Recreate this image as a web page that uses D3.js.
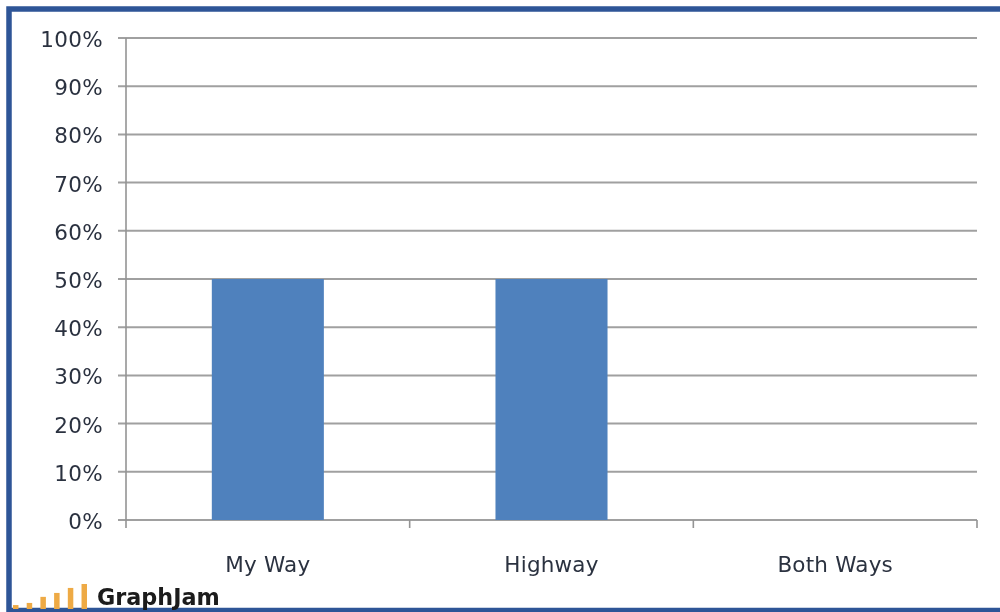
<!DOCTYPE html>
<html>
<head>
<meta charset="utf-8">
<script src="https://cdn.jsdelivr.net/npm/d3@7/dist/d3.min.js"></script>
<style>
html,body{margin:0;padding:0;background:#fff;overflow:hidden}
svg{display:block}
text{font-family:"DejaVu Sans",sans-serif;fill:#2c3240}
</style>
</head>
<body>
<svg id="chart" width="1000" height="612"></svg>
<script>
const categories = ["My Way", "Highway", "Both Ways"];
const values = [50, 50, 0];
const yTicks = [0, 10, 20, 30, 40, 50, 60, 70, 80, 90, 100];
const logoBars = [1.1, 1.7, 3.4, 4.5, 5.9, 7];
const logoLabel = "GraphJam";

const svg = d3.select("#chart");
const soft = svg.append("defs").append("filter").attr("id", "soft");
soft.append("feGaussianBlur").attr("stdDeviation", 0.5);

const plotLeft = 126, plotRight = 977, plotTop = 38, plotBottom = 520;
const x = d3.scaleBand().domain(categories).range([plotLeft, plotRight]).paddingInner(0.605).paddingOuter(0.3025);
const xEdges = d3.scaleLinear().domain([0, categories.length]).range([plotLeft, plotRight]);
const y = d3.scaleLinear().domain([0, 100]).range([plotBottom, plotTop]);

const root = svg.append("g").attr("filter", "url(#soft)");

// frame
root.append("path")
  .attr("d", "M1000,9 H9 V612 M9,610.5 H1000")
  .attr("fill", "none").attr("stroke", "#2f5597").attr("stroke-width", 5.5);
root.append("rect").attr("x", 0).attr("y", 608).attr("width", 6).attr("height", 4).attr("fill", "#fff");

// gridlines and tick marks
root.append("g").selectAll("line").data(yTicks).join("line")
  .attr("x1", plotLeft - 8).attr("x2", plotRight)
  .attr("y1", d => y(d)).attr("y2", d => y(d))
  .attr("stroke", "#a0a0a0").attr("stroke-width", 2);

// y axis
root.append("line").attr("x1", plotLeft).attr("x2", plotLeft).attr("y1", plotTop).attr("y2", plotBottom + 8)
  .attr("stroke", "#949494").attr("stroke-width", 1.6);

// category ticks
root.append("g").selectAll("line").data(d3.range(1, categories.length + 1)).join("line")
  .attr("x1", d => xEdges(d)).attr("x2", d => xEdges(d))
  .attr("y1", plotBottom).attr("y2", plotBottom + 8)
  .attr("stroke", "#949494").attr("stroke-width", 1.6);

// bars
root.append("g").selectAll("rect").data(categories).join("rect")
  .attr("x", d => x(d))
  .attr("width", x.bandwidth())
  .attr("y", (d, i) => y(values[i]))
  .attr("height", (d, i) => y(0) - y(values[i]))
  .attr("fill", "#4f81bd");

// y labels
root.append("g").selectAll("text").data(yTicks).join("text")
  .attr("x", 103).attr("y", d => y(d) + 9)
  .attr("text-anchor", "end").attr("font-size", 21.5).attr("letter-spacing", 0.3)
  .text(d => d + "%");

// x labels
root.append("g").selectAll("text").data(categories).join("text")
  .attr("x", d => x(d) + x.bandwidth() / 2).attr("y", 572)
  .attr("text-anchor", "middle").attr("font-size", 21.5).attr("letter-spacing", 0.2)
  .text(d => d);

// watermark
const logoX = d3.scaleBand().domain(d3.range(logoBars.length)).range([13, 87]).paddingInner(0.6);
const logoY = d3.scaleLinear().domain([0, 7]).range([609, 584]);
root.append("g").selectAll("rect").data(logoBars).join("rect")
  .attr("x", (d, i) => logoX(i)).attr("width", logoX.bandwidth())
  .attr("y", d => logoY(d)).attr("height", d => logoY(0) - logoY(d))
  .attr("fill", "#eeaa44");
root.append("text").attr("x", 97).attr("y", 605)
  .attr("font-size", 22.3).attr("font-weight", 700)
  .style("fill", "#1a1a1a")
  .text(logoLabel);
</script>
</body>
</html>
